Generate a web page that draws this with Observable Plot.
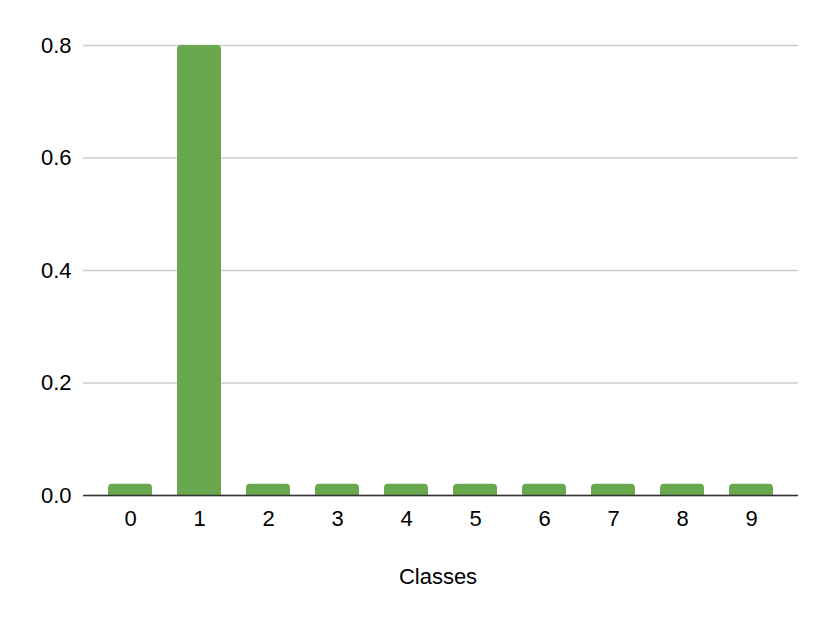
<!DOCTYPE html>
<html>
<head>
<meta charset="utf-8">
<script src="https://cdn.jsdelivr.net/npm/d3@7"></script>
<script src="https://cdn.jsdelivr.net/npm/@observablehq/plot@0.6"></script>
<style>
  body { margin: 0; background: #fff; }
  #chart svg { font-family: "Liberation Sans", Arial, sans-serif; }
</style>
</head>
<body>
<div id="chart"></div>
<script>
const classes = ["0", "1", "2", "3", "4", "5", "6", "7", "8", "9"];
const values = [0.02, 0.8, 0.02, 0.02, 0.02, 0.02, 0.02, 0.02, 0.02, 0.02];
const yTicks = [0, 0.2, 0.4, 0.6, 0.8];
const xLabel = "Classes";

const data = classes.map((c, i) => ({ cls: c, value: values[i] }));

const chart = Plot.plot({
  width: 830,
  height: 627,
  marginLeft: 83,
  marginRight: 32,
  marginTop: 45,
  marginBottom: 132,
  style: { fontSize: "22px", fontFamily: "Liberation Sans, Arial, sans-serif", background: "#fff", color: "#000" },
  x: { domain: classes, paddingInner: 0.36, paddingOuter: 0.36, label: null },
  y: { domain: [0, 0.8], label: null },
  marks: [
    Plot.gridY(yTicks, { stroke: "#cccccc", strokeOpacity: 1, strokeWidth: 1.5 }),
    Plot.barY(data, { x: "cls", y: "value", fill: "#6aa84f", ry1: 4 }),
    Plot.ruleY([0], { stroke: "#333333", strokeWidth: 1.5 }),
    Plot.axisX({ tickSize: 0, tickPadding: 15, fontSize: 22, label: null }),
    Plot.axisY({ ticks: yTicks, tickFormat: d3.format(".1f"), tickSize: 0, tickPadding: 12, fontSize: 22, label: null }),
    Plot.text([xLabel], { frameAnchor: "bottom", dy: 88, dx: -3, fontSize: 22, fill: "#000" })
  ]
});
document.getElementById("chart").appendChild(chart);
</script>
</body>
</html>
